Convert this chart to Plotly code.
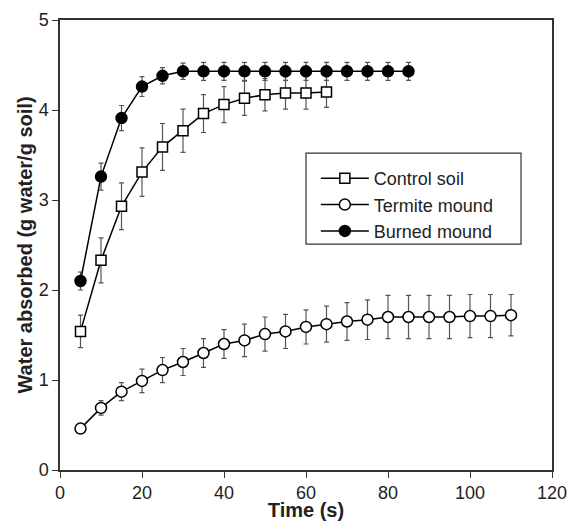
import plotly.graph_objects as go

# time points (s)
time_burned = [5, 10, 15, 20, 25, 30, 35, 40, 45, 50, 55, 60, 65, 70, 75, 80, 85]
time_control = [5, 10, 15, 20, 25, 30, 35, 40, 45, 50, 55, 60, 65]
time_termite = [5, 10, 15, 20, 25, 30, 35, 40, 45, 50, 55, 60, 65, 70, 75, 80,
                85, 90, 95, 100, 105, 110]

# water absorbed (g water / g soil) and error bars
burned = [2.10, 3.26, 3.91, 4.26, 4.38, 4.43, 4.43, 4.43, 4.43, 4.43, 4.43, 4.43,
          4.43, 4.43, 4.43, 4.43, 4.43]
burned_err = [0.10, 0.15, 0.14, 0.11, 0.09, 0.09, 0.10, 0.10, 0.10, 0.10, 0.10,
              0.10, 0.10, 0.10, 0.10, 0.10, 0.10]

control = [1.54, 2.33, 2.93, 3.31, 3.59, 3.77, 3.96, 4.06, 4.13, 4.17, 4.19, 4.19, 4.20]
control_err = [0.18, 0.25, 0.26, 0.27, 0.26, 0.24, 0.21, 0.20, 0.19, 0.18, 0.18,
               0.18, 0.17]

termite = [0.46, 0.69, 0.87, 0.99, 1.11, 1.20, 1.30, 1.40, 1.44, 1.51, 1.54, 1.59,
           1.62, 1.65, 1.67, 1.70, 1.70, 1.70, 1.70, 1.71, 1.71, 1.72]
termite_err = [0.03, 0.08, 0.10, 0.13, 0.14, 0.15, 0.16, 0.16, 0.18, 0.19, 0.19,
               0.19, 0.20, 0.21, 0.22, 0.24, 0.24, 0.24, 0.24, 0.24, 0.24, 0.23]

font = "Arial, Liberation Sans, sans-serif"
err_style = dict(type="data", color="#555555", thickness=1.2, width=2.5)

fig = go.Figure()

fig.add_trace(go.Scatter(
    x=time_termite, y=termite, name="Termite mound", mode="lines+markers",
    line=dict(color="black", width=1.5),
    marker=dict(symbol="circle", size=11, color="white",
                line=dict(color="black", width=1.5)),
    error_y=dict(array=termite_err, **err_style)))

fig.add_trace(go.Scatter(
    x=time_control, y=control, name="Control soil", mode="lines+markers",
    line=dict(color="black", width=1.5),
    marker=dict(symbol="square", size=10, color="white",
                line=dict(color="black", width=1.5)),
    error_y=dict(array=control_err, **err_style)))

fig.add_trace(go.Scatter(
    x=time_burned, y=burned, name="Burned mound", mode="lines+markers",
    line=dict(color="black", width=1.5),
    marker=dict(symbol="circle", size=11, color="black",
                line=dict(color="black", width=1.5)),
    error_y=dict(array=burned_err, **err_style)))

fig.update_layout(
    width=569, height=521,
    margin=dict(l=60, r=17, t=20, b=51),
    paper_bgcolor="white", plot_bgcolor="white",
    font=dict(family=font, size=18, color="#222222"),
    legend=dict(x=0.520, y=0.689, xanchor="left", yanchor="top",
                traceorder="normal", borderwidth=0,
                bgcolor="rgba(0,0,0,0)", font=dict(size=18), itemwidth=48),
    xaxis=dict(range=[0, 120], dtick=20, showgrid=False, zeroline=False,
               showline=True, linecolor="#333333", linewidth=1.5, mirror=True,
               ticks="outside", ticklen=6, tickcolor="#333333", automargin=False,
               title=dict(text="<b>Time (s)</b>", font=dict(size=20), standoff=0)),
    yaxis=dict(range=[0, 5], dtick=1, showgrid=False, zeroline=False,
               showline=True, linecolor="#333333", linewidth=1.5, mirror=True,
               ticks="outside", ticklen=6, tickcolor="#333333", automargin=False,
               title=dict(text="<b>Water absorbed (g water/g soil)</b>",
                          font=dict(size=20), standoff=1)),
)

# legend frame
fig.add_shape(type="rect", xref="paper", yref="paper", x0=0.5, x1=0.937,
              y0=0.502, y1=0.704, line=dict(color="#333333", width=1.2))

# legend order: Control soil, Termite mound, Burned mound
fig.data[1].legendrank = 1
fig.data[0].legendrank = 2
fig.data[2].legendrank = 3

# drop the default 8px body margin so the figure fills the window
fig.write_html("out.html", config={"displayModeBar": False},
               post_script="document.body.style.margin='0';")
